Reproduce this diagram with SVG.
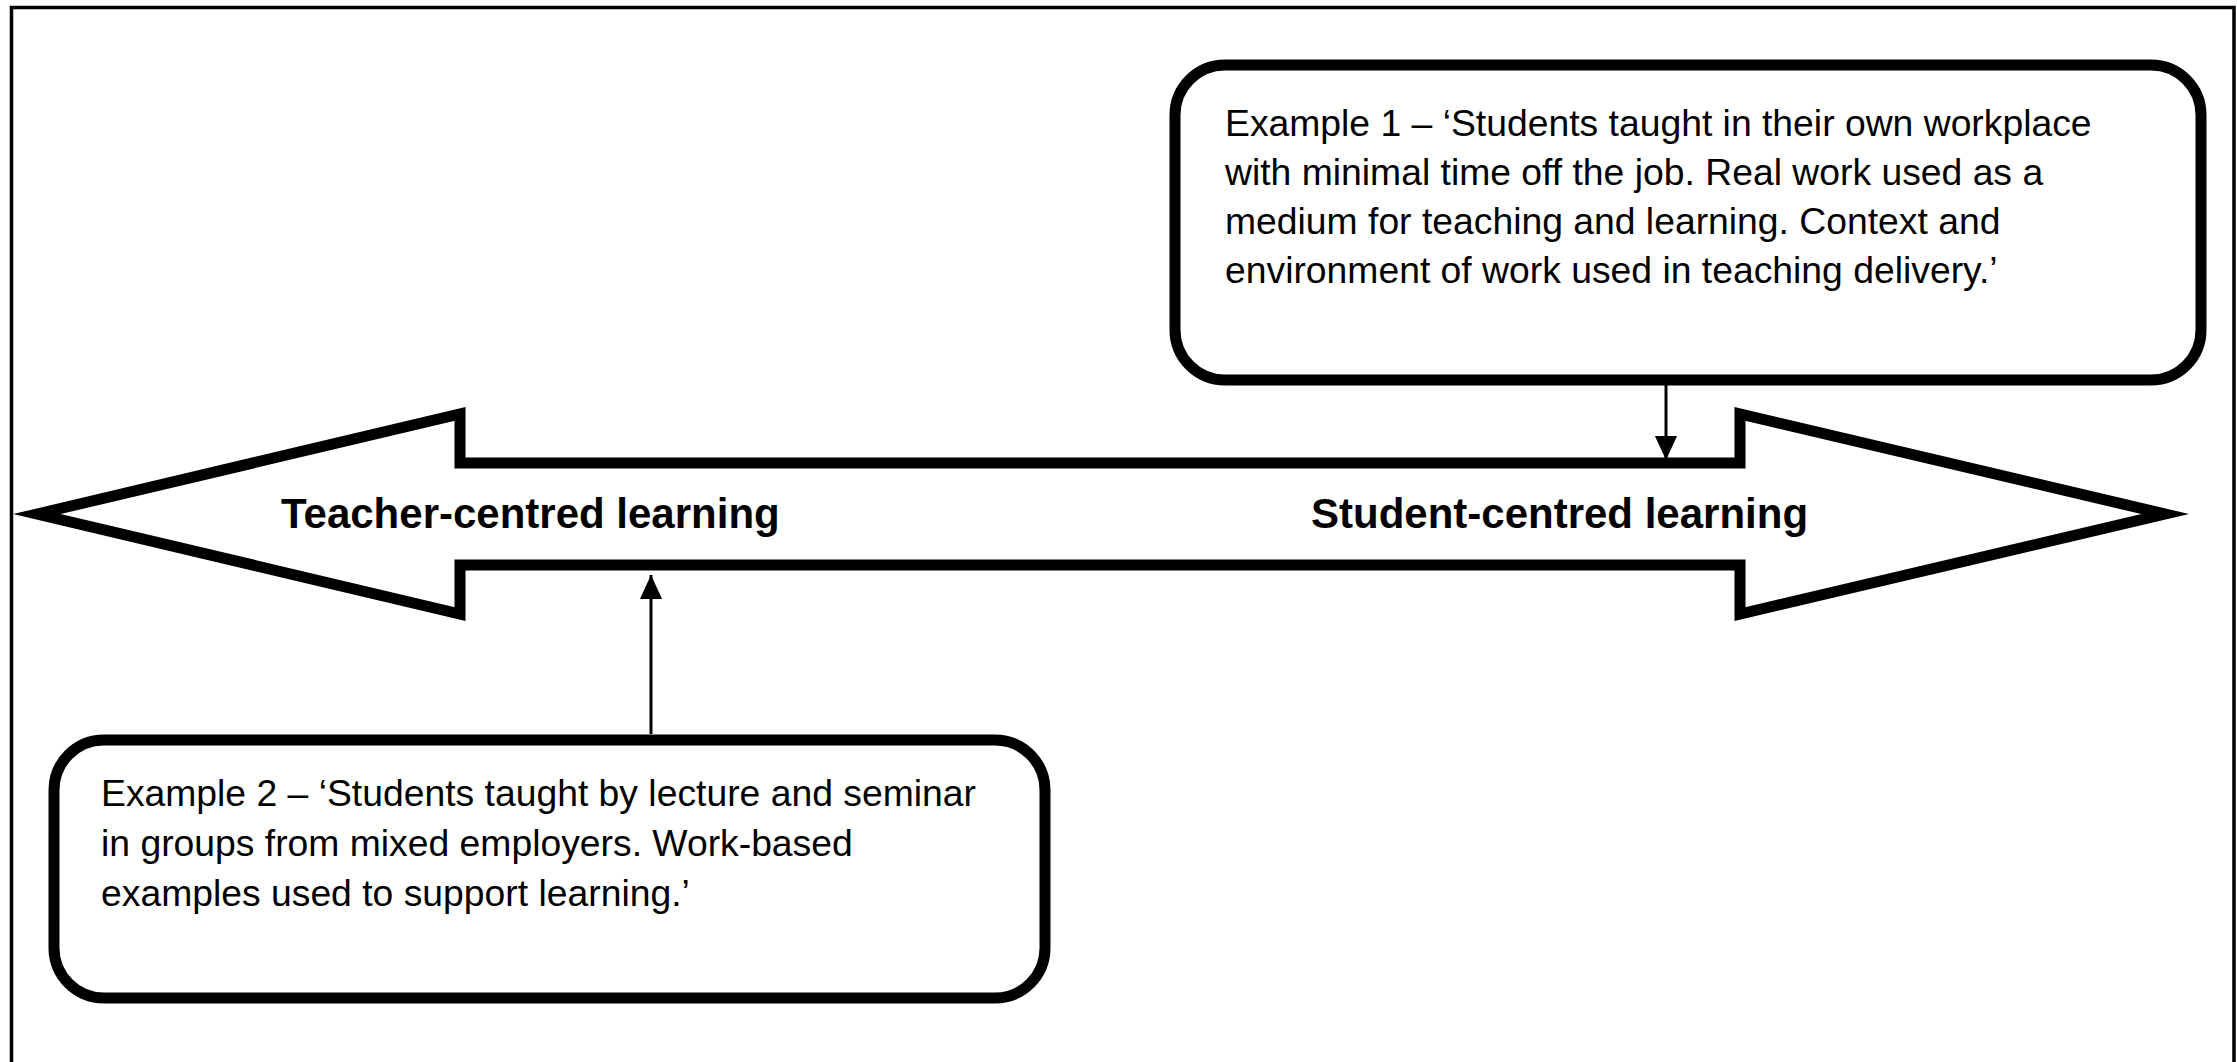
<svg xmlns="http://www.w3.org/2000/svg" width="2237" height="1062" viewBox="0 0 2237 1062">
  <style>
    .frame { fill: none; stroke: #000; stroke-width: 3.5; }
    .band { fill: #fff; stroke: #000; stroke-width: 11; stroke-linejoin: miter; stroke-miterlimit: 10; }
    .box { fill: #fff; stroke: #000; stroke-width: 11; }
    .label { font-family: "Liberation Sans", Arial, sans-serif; font-weight: bold; font-size: 42px; fill: #000; }
    .body { font-family: "Liberation Sans", Arial, sans-serif; font-size: 37.3px; fill: #000; }
    .link { fill: none; stroke: #000; stroke-width: 3; }
  </style>
  <defs>
    <marker id="head" viewBox="0 0 26 26" refX="26" refY="13" markerWidth="26" markerHeight="24" markerUnits="userSpaceOnUse" orient="auto">
      <path d="M0,1 L26,13 L0,25 Z" fill="#000"/>
    </marker>
  </defs>

  <rect width="2237" height="1062" fill="#fff"/>
  <!-- page border -->
  <rect class="frame" x="11.5" y="7.5" width="2222.5" height="1100"/>

  <!-- double-headed continuum arrow -->
  <g id="continuum">
    <polygon class="band" points="37,514 460,414 460,463 1740,463 1740,414 2165,514 1740,614 1740,565 460,565 460,614"/>
    <text class="label" x="281" y="528">Teacher-centred learning</text>
    <text class="label" x="1311" y="528">Student-centred learning</text>
  </g>

  <!-- example 1 -->
  <g id="example1">
    <rect class="box" x="1175" y="65" width="1026" height="315" rx="50" ry="50"/>
    <text class="body" x="1225" y="136">Example 1 – ‘Students taught in their own workplace</text>
    <text class="body" x="1225" y="185">with minimal time off the job. Real work used as a</text>
    <text class="body" x="1225" y="234">medium for teaching and learning. Context and</text>
    <text class="body" x="1225" y="283">environment of work used in teaching delivery.’</text>
  </g>

  <!-- example 2 -->
  <g id="example2">
    <rect class="box" x="54" y="740" width="991" height="258" rx="50" ry="50"/>
    <text class="body" x="101" y="806">Example 2 – ‘Students taught by lecture and seminar</text>
    <text class="body" x="101" y="856">in groups from mixed employers. Work-based</text>
    <text class="body" x="101" y="906">examples used to support learning.’</text>
  </g>

  <!-- connectors -->
  <g id="connectors">
    <line class="link" x1="1666" y1="385" x2="1666" y2="460" marker-end="url(#head)"/>
    <line class="link" x1="651" y1="734" x2="651" y2="575" marker-end="url(#head)"/>
  </g>
</svg>
